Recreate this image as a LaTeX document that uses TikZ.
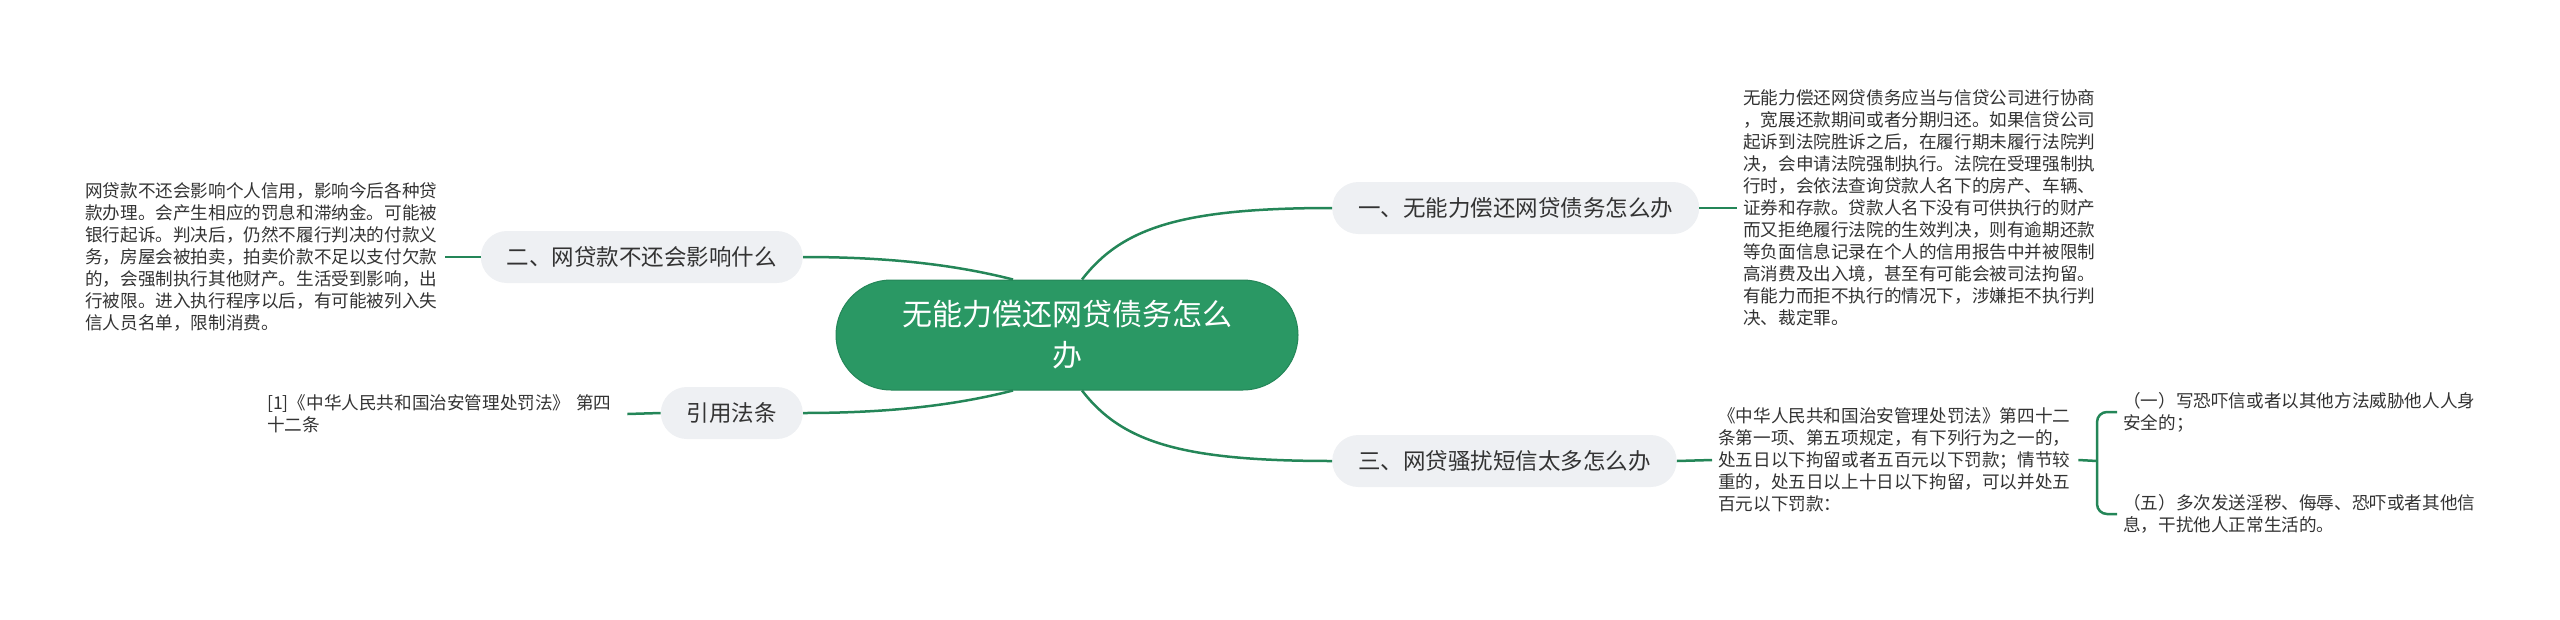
\documentclass[tikz,border=0pt]{standalone}
\usepackage{fontspec}
\setmainfont{Noto Sans CJK SC}
\definecolor{mapgreen}{RGB}{42,152,100}
\definecolor{linegreen}{RGB}{36,134,88}
\definecolor{topicgray}{RGB}{238,240,243}
\definecolor{inkgray}{RGB}{51,51,51}
\tikzset{
  root/.style={fill=mapgreen,draw=linegreen,line width=1pt,text=white,rounded corners=55pt,
    minimum width=462pt,minimum height=110pt,align=center,font=\fontsize{30}{41}\selectfont},
  topic/.style={fill=topicgray,text=inkgray,rounded corners=26pt,minimum height=52pt,
    inner xsep=26pt,font=\fontsize{22.5}{27}\selectfont},
  leaf/.style={text=inkgray,text width=354pt,align=left,inner xsep=6pt,inner ysep=0pt,
    font=\fontsize{17.6}{22}\selectfont},
  conn/.style={draw=linegreen,line width=2.5pt}
}
\begin{document}
\begin{tikzpicture}[x=1pt,y=-1pt]
\useasboundingbox (0,0) rectangle (2560,619);
% centre and topics
\node[root] (root) at (1067,335) {无能力偿还网贷债务怎么\\办};
\node[topic,anchor=west] (b1) at (1332,208) {一、无能力偿还网贷债务怎么办};
\node[topic,anchor=west] (b3) at (1332,461) {三、网贷骚扰短信太多怎么办};
\node[topic,anchor=east] (b2) at (803,257) {二、网贷款不还会影响什么};
\node[topic,anchor=east] (b4) at (803,413) {引用法条};
\foreach \b/\a/\s in {b1/north/-1,b3/south/1}
   \draw[conn] ([xshift=15pt]root.\a) .. controls +(40,\s*52) and +(-150,0) .. (\b.west);
\foreach \b/\a/\s in {b2/north/-1,b4/south/1}
   \draw[conn] ([xshift=-54pt]root.\a) .. controls +(-55,\s*14) and +(90,0) .. (\b.east);
% details
\node[leaf,anchor=west] (l1) at (1737,208) {无能力偿还网贷债务应当与信贷公司进行协商\\
，宽展还款期间或者分期归还。如果信贷公司\\
起诉到法院胜诉之后，在履行期未履行法院判\\
决，会申请法院强制执行。法院在受理强制执\\
行时，会依法查询贷款人名下的房产、车辆、\\
证券和存款。贷款人名下没有可供执行的财产\\
而又拒绝履行法院的生效判决，则有逾期还款\\
等负面信息记录在个人的信用报告中并被限制\\
高消费及出入境，甚至有可能会被司法拘留。\\
有能力而拒不执行的情况下，涉嫌拒不执行判\\
决、裁定罪。};
\node[leaf,anchor=west] (l2) at (79,257) {网贷款不还会影响个人信用，影响今后各种贷\\
款办理。会产生相应的罚息和滞纳金。可能被\\
银行起诉。判决后，仍然不履行判决的付款义\\
务，房屋会被拍卖，拍卖价款不足以支付欠款\\
的，会强制执行其他财产。生活受到影响，出\\
行被限。进入执行程序以后，有可能被列入失\\
信人员名单，限制消费。};
\node[leaf,anchor=west] (l4) at (261,414) {[1]《中华人民共和国治安管理处罚法》 第四\\
十二条};
\node[leaf,anchor=west] (l3) at (1712,460) {《中华人民共和国治安管理处罚法》第四十二\\
条第一项、第五项规定，有下列行为之一的，\\
处五日以下拘留或者五百元以下罚款；情节较\\
重的，处五日以上十日以下拘留，可以并处五\\
百元以下罚款：};
\node[leaf,anchor=west] (i1) at (2117,412) {（一）写恐吓信或者以其他方法威胁他人人身\\
安全的；};
\node[leaf,anchor=west] (i5) at (2117,514) {（五）多次发送淫秽、侮辱、恐吓或者其他信\\
息，干扰他人正常生活的。};
\coordinate (brace) at (2097,461);
\draw[conn] (b1.east) -- (l1.west);
\draw[conn] (b2.west) -- (l2.east);
\draw[conn] (b4.west) -- (l4.east);
\draw[conn] (b3.east) -- (l3.west);
\draw[conn] (l3.east) -- (brace);
\draw[conn,rounded corners=10pt] (i1.west) -| (brace) |- (i5.west);
\end{tikzpicture}
\end{document}
